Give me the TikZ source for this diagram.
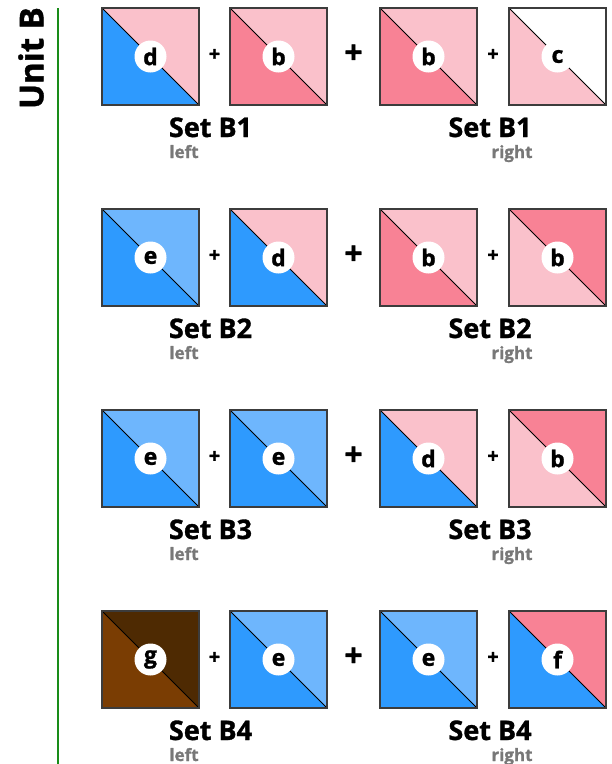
\documentclass[tikz,border=0pt]{standalone}
\usepackage{fontspec}
\setmainfont{Open Sans}[BoldFeatures={FakeBold=1.2}]
\usetikzlibrary{positioning}
\definecolor{pinklt}{RGB}{250,193,203}
\definecolor{pinkmd}{RGB}{248,130,149}
\definecolor{bluedk}{RGB}{46,154,254}
\definecolor{bluelt}{RGB}{110,182,253}
\definecolor{browndk}{RGB}{78,42,2}
\definecolor{brownlt}{RGB}{122,61,3}
\definecolor{edgegray}{RGB}{60,60,60}
\definecolor{unitgreen}{RGB}{25,140,25}
\definecolor{sidegray}{RGB}{120,120,120}

% one half-square triangle block: x, y, lower colour, upper colour, letter, name
\newcommand{\hst}[6]{%
  \fill[#3] (#1,#2) -- (#1,#2+97) -- (#1+97,#2+97) -- cycle;
  \fill[#4] (#1,#2) -- (#1+97,#2) -- (#1+97,#2+97) -- cycle;
  \draw[black, line width=1pt] (#1,#2) -- (#1+97,#2+97);
  \draw[edgegray, line width=1.3pt] (#1,#2) rectangle (#1+97,#2+97);
  \node[disc] (#6) at (#1+48.5,#2+48.5) {#5};
}

\begin{document}
\begin{tikzpicture}[x=1pt, y=-1pt,
  disc/.style={circle, fill=white, minimum size=32pt, inner sep=0pt,
    font=\bfseries\fontsize{23}{23}\selectfont},
  plussm/.style={font=\bfseries\fontsize{20}{20}\selectfont},
  plusbg/.style={font=\bfseries\fontsize{32}{32}\selectfont},
  setlbl/.style={anchor=base, font=\bfseries\fontsize{27}{27}\selectfont},
  sidelbl/.style={anchor=base, text=sidegray, font=\bfseries\fontsize{17}{17}\selectfont}]
  \useasboundingbox (0,0) rectangle (612,764);

  % unit title and rule
  \node[rotate=90, font=\bfseries\fontsize{33}{33}\selectfont] (unit) at (31,58) {Unit B};
  \coordinate (railtop) at (58,8);
  \coordinate (railbot) at (58,764);
  \draw[unitgreen, line width=1.5pt] (railtop) -- (railbot);

  % Set B1
  \hst{102}{8}{bluedk}{pinklt}{d}{b1a}
  \hst{230}{8}{pinkmd}{pinklt}{b}{b1b}
  \hst{380}{8}{pinkmd}{pinklt}{b}{b1c}
  \hst{509}{8}{pinklt}{white}{c}{b1d}

  % Set B2
  \hst{102}{209}{bluedk}{bluelt}{e}{b2a}
  \hst{230}{209}{bluedk}{pinklt}{d}{b2b}
  \hst{380}{209}{pinkmd}{pinklt}{b}{b2c}
  \hst{509}{209}{pinklt}{pinkmd}{b}{b2d}

  % Set B3
  \hst{102}{410}{bluedk}{bluelt}{e}{b3a}
  \hst{230}{410}{bluedk}{bluelt}{e}{b3b}
  \hst{380}{410}{bluedk}{pinklt}{d}{b3c}
  \hst{509}{410}{pinklt}{pinkmd}{b}{b3d}

  % Set B4
  \hst{102}{611}{brownlt}{browndk}{g}{b4a}
  \hst{230}{611}{bluedk}{bluelt}{e}{b4b}
  \hst{380}{611}{bluedk}{bluelt}{e}{b4c}
  \hst{509}{611}{bluedk}{pinkmd}{f}{b4d}

  % plus signs and set labels
  \foreach \r/\y in {1/8,2/209,3/410,4/611}{
    \node[plussm] (pl\r) at (214.5,\y+47) {+};
    \node[plusbg] (pm\r) at (353.5,\y+46) {+};
    \node[plussm] (pr\r) at (493,\y+47) {+};
    \node[setlbl] (setl\r) at (210.5,\y+129) {Set B\r};
    \node[sidelbl] (left\r) at (184,\y+150) {left};
    \node[setlbl] (setr\r) at (490,\y+129) {Set B\r};
    \node[sidelbl] (right\r) at (512,\y+150) {right};
  }
\end{tikzpicture}
\end{document}
